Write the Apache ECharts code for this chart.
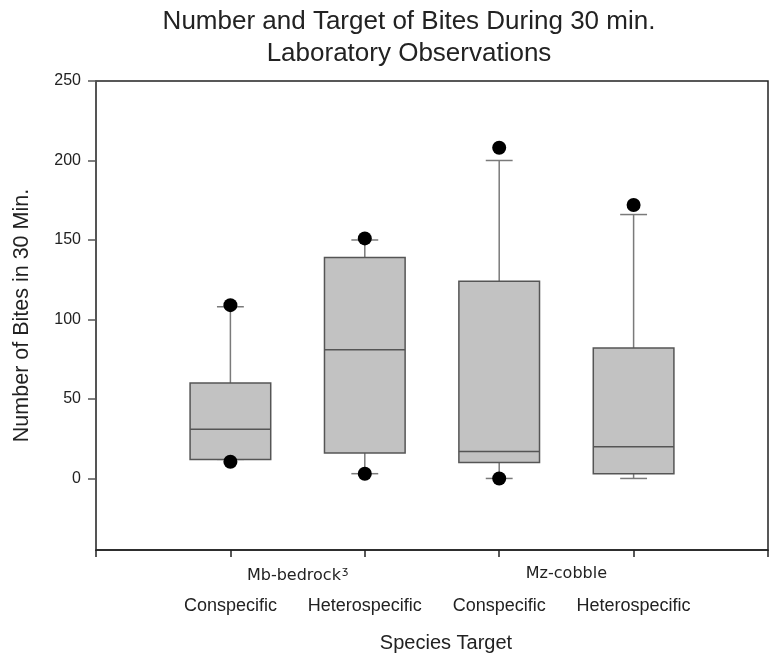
<!DOCTYPE html>
<html lang="en">
  <head>
    <meta charset="UTF-8" />
    <title>Number and Target of Bites</title>
    <script src="https://cdn.jsdelivr.net/npm/echarts@6.0.0/dist/echarts.min.js"></script>
    <style>
      html, body { margin: 0; padding: 0; background: #fff; }
      #chart { width: 770px; height: 656px; }
    </style>
  </head>
  <body>
    <div id="chart"></div>
    <script>
      // box positions on the x value axis
      var positions = [1, 2, 3, 4];
      var categories = ['Conspecific', 'Heterospecific', 'Conspecific', 'Heterospecific'];
      var groups = ['Mb-bedrock', 'Mz-cobble'];
      var groupPositions = [1.5, 3.5];

      // box statistics
      var whiskerLow = [12, 3, 0, 0];
      var q1 = [12, 16, 10, 3];
      var median = [31, 81, 17, 20];
      var q3 = [60, 139, 124, 82];
      var whiskerHigh = [108, 150, 200, 166];

      // points beyond the whiskers (x position, value)
      var outliers = [[1, 109], [1, 10.5], [2, 151], [2, 3], [3, 208], [3, 0], [4, 172]];

      var yTicks = [0, 50, 100, 150, 200, 250];

      var boxData = positions.map(function (p, i) {
        return [p, whiskerLow[i], q1[i], median[i], q3[i], whiskerHigh[i]];
      });

      var chart = echarts.init(document.getElementById('chart'));

      function renderBox(params, api) {
        var x = api.value(0);
        var half = 0.3, cap = 0.1;
        var pLow = api.coord([x, api.value(1)]);
        var pQ1 = api.coord([x, api.value(2)]);
        var pMed = api.coord([x, api.value(3)]);
        var pQ3 = api.coord([x, api.value(4)]);
        var pHigh = api.coord([x, api.value(5)]);
        var left = api.coord([x - half, 0])[0];
        var right = api.coord([x + half, 0])[0];
        var capL = api.coord([x - cap, 0])[0];
        var capR = api.coord([x + cap, 0])[0];
        var whisk = { stroke: '#7a7a7a', lineWidth: 1.5 };
        return {
          type: 'group',
          children: [
            { type: 'line', shape: { x1: pQ3[0], y1: pQ3[1], x2: pHigh[0], y2: pHigh[1] }, style: whisk },
            { type: 'line', shape: { x1: pQ1[0], y1: pQ1[1], x2: pLow[0], y2: pLow[1] }, style: whisk },
            { type: 'line', shape: { x1: capL, y1: pHigh[1], x2: capR, y2: pHigh[1] }, style: whisk },
            { type: 'line', shape: { x1: capL, y1: pLow[1], x2: capR, y2: pLow[1] }, style: whisk },
            {
              type: 'rect',
              shape: { x: left, y: pQ3[1], width: right - left, height: pQ1[1] - pQ3[1] },
              style: { fill: '#c2c2c2', stroke: '#555', lineWidth: 1.5 }
            },
            { type: 'line', shape: { x1: left, y1: pMed[1], x2: right, y2: pMed[1] }, style: { stroke: '#555', lineWidth: 1.5 } }
          ]
        };
      }

      var option = {
        animation: false,
        grid: {
          left: 96, top: 81, right: 2, bottom: 106,
          show: true, borderColor: '#222', borderWidth: 1.5, backgroundColor: 'transparent'
        },
        graphic: [
          {
            type: 'text', x: 409, y: 6,
            style: {
              text: 'Number and Target of Bites During 30 min.\nLaboratory Observations',
              textAlign: 'center', fill: '#222', lineHeight: 32,
              font: '26px "Liberation Sans", Arial, sans-serif'
            }
          },
          {
            type: 'text', x: 446, y: 643,
            style: {
              text: 'Species Target', textAlign: 'center', textVerticalAlign: 'middle', fill: '#222',
              font: '20px "Liberation Sans", Arial, sans-serif'
            }
          }
        ],
        xAxis: [
          {
            type: 'value', min: 0, max: 5, interval: 1,
            axisLine: { onZero: false, lineStyle: { color: '#222', width: 1.5 } },
            axisTick: { length: 7, lineStyle: { color: '#222', width: 1.5 } },
            splitLine: { show: false },
            axisLabel: {
              customValues: groupPositions, margin: 16,
              color: '#222', fontFamily: 'DejaVu Sans', fontSize: 16,
              formatter: function (v) {
                var i = groupPositions.indexOf(v);
                if (i === 0) return groups[0] + '{sup|ʒ}';
                return i >= 0 ? groups[i] : '';
              },
              rich: { sup: { fontSize: 11, fontFamily: 'DejaVu Sans', color: '#222', verticalAlign: 'top', padding: [0, 0, 8, 1] } }
            }
          },
          {
            type: 'value', min: 0, max: 5, position: 'bottom',
            axisLine: { show: false, onZero: false }, axisTick: { show: false }, splitLine: { show: false },
            axisLabel: {
              customValues: positions, margin: 47,
              color: '#222', fontFamily: 'Liberation Sans', fontSize: 18,
              formatter: function (v) {
                var i = positions.indexOf(v);
                return i >= 0 ? categories[i] : '';
              }
            }
          }
        ],
        yAxis: {
          type: 'value', min: -45, max: 250,
          name: 'Number of Bites in 30 Min.', nameLocation: 'middle', nameGap: 63,
          nameTextStyle: { color: '#222', fontFamily: 'Liberation Sans', fontSize: 21.5 },
          axisLine: { show: true, lineStyle: { color: '#555', width: 1.5 } },
          axisTick: { show: true, length: 8, customValues: yTicks, lineStyle: { color: '#555', width: 1.5 } },
          axisLabel: { customValues: yTicks, margin: 15, color: '#222', fontFamily: 'Liberation Sans', fontSize: 16 },
          splitLine: { show: false }
        },
        series: [
          {
            type: 'custom', xAxisIndex: 0, renderItem: renderBox,
            encode: { x: 0, y: [1, 2, 3, 4, 5] },
            data: boxData, z: 2
          },
          {
            type: 'scatter', xAxisIndex: 0, data: outliers,
            symbol: 'circle', symbolSize: 14,
            itemStyle: { color: '#000', opacity: 1 }, z: 3
          }
        ]
      };

      chart.setOption(option);
    </script>
  </body>
</html>
